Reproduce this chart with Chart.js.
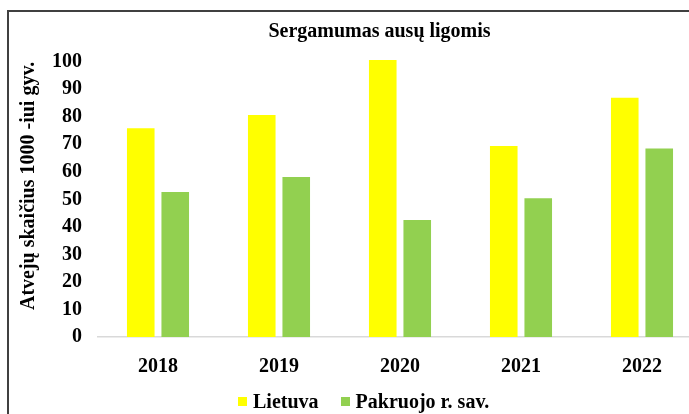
<!DOCTYPE html>
<html>
<head>
<meta charset="utf-8">
<script src="https://cdn.jsdelivr.net/npm/chart.js@4"></script>
<style>
    html, body { margin: 0; padding: 0; background: #fff; overflow: hidden; width: 689px; height: 414px; }
    #frame { position: absolute; left: 7px; top: 10px; border: 2px solid #404040; background: #fff; }
    #box { position: relative; width: 741px; height: 410px; }
    #legend { position: absolute; left: 238px; top: 390px; display: flex; align-items: center;
              font: bold 20px "Liberation Serif", "Times New Roman", serif; color: #000; }
    #legend .item { display: flex; align-items: center; margin-right: 22px; }
    #legend .swatch { width: 9px; height: 9px; margin-right: 6px; }
</style>
</head>
<body>
<div id="frame"><div id="box"><canvas id="chart"></canvas></div></div>
<div id="legend"></div>
<script>
const years = ['2018', '2019', '2020', '2021', '2022'];
const lietuva = [75.8, 80.6, 100.6, 69.4, 86.9];
const pakruojo = [52.7, 58.1, 42.5, 50.4, 68.5];
const yTicks = [0, 10, 20, 30, 40, 50, 60, 70, 80, 90, 100];

const serif = '"Liberation Serif", "Times New Roman", serif';
const boldFont = { family: serif, size: 20, weight: 'bold' };

const chart = new Chart(document.getElementById('chart'), {
    type: 'bar',
    data: {
        labels: years,
        datasets: [
            { label: 'Lietuva', data: lietuva, backgroundColor: '#FFFF00', clip: false },
            { label: 'Pakruojo r. sav.', data: pakruojo, backgroundColor: '#92D050', clip: false }
        ]
    },
    options: {
        responsive: true,
        maintainAspectRatio: false,
        animation: false,
        categoryPercentage: 0.57,
        barPercentage: 0.8,
        layout: { padding: { left: 0, right: 0, top: 0, bottom: 44 } },
        plugins: {
            legend: { display: false },
            tooltip: { enabled: false },
            title: {
                display: true,
                text: 'Sergamumas ausų ligomis',
                color: '#000',
                font: boldFont,
                padding: { top: 8, bottom: 17.7 }
            }
        },
        scales: {
            x: {
                grid: { display: false, drawTicks: false },
                border: { display: true, color: '#D9D9D9', width: 1.5 },
                ticks: { color: '#000', font: boldFont, padding: 17.5 },
                afterFit: s => { s.height = 41; }
            },
            y: {
                min: 0,
                max: 100,
                afterBuildTicks: s => { s.ticks = yTicks.map(v => ({ value: v })); },
                grid: { display: false, drawTicks: false },
                border: { display: false },
                ticks: { color: '#000', font: boldFont, padding: 15.5, autoSkip: false },
                title: {
                    display: true,
                    text: 'Atvejų skaičius 1000 -iui gyv.',
                    align: 'end',
                    color: '#000',
                    font: boldFont,
                    padding: { top: 8, bottom: 11 }
                },
                afterFit: s => { s.width = 88.5; }
            },
            yRight: {
                type: 'linear',
                position: 'right',
                grid: { display: false },
                border: { display: false },
                ticks: { display: false },
                afterFit: s => { s.width = 47.5; }
            }
        }
    }
});

// legend as html, built from the chart's own legend items
const legendEl = document.getElementById('legend');
chart.options.plugins.legend.labels.generateLabels(chart).forEach(item => {
    const el = document.createElement('div');
    el.className = 'item';
    const sw = document.createElement('span');
    sw.className = 'swatch';
    sw.style.background = item.fillStyle;
    const txt = document.createElement('span');
    txt.textContent = item.text;
    el.appendChild(sw);
    el.appendChild(txt);
    legendEl.appendChild(el);
});
</script>
</body>
</html>
